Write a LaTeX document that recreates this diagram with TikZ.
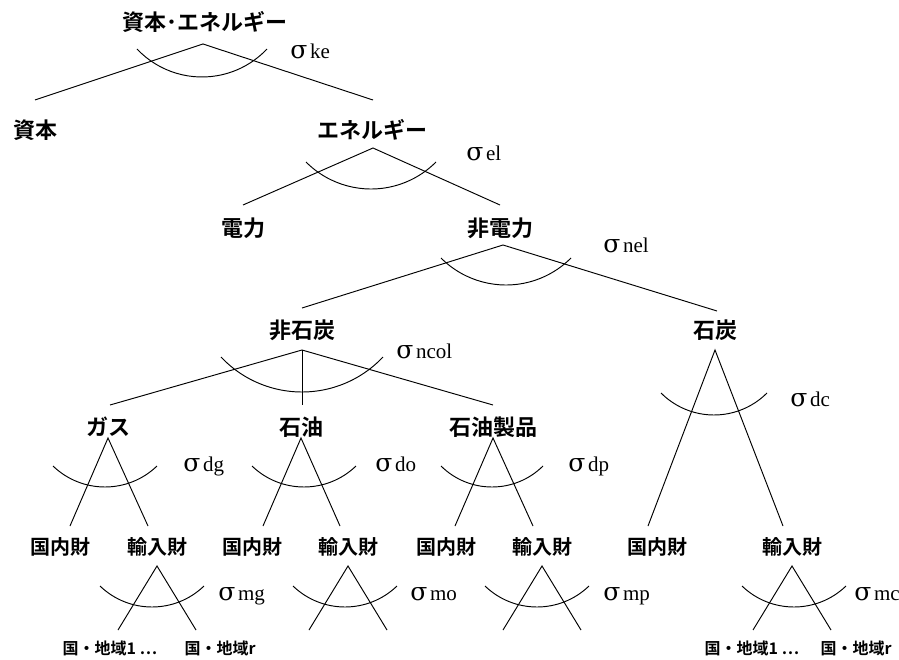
\documentclass[tikz,border=0pt]{standalone}
\usepackage{fontspec}
\newfontfamily\jpb{Noto Sans CJK JP Bold}
\newfontfamily\sig{Liberation Serif}
\newfontfamily\sigg{DejaVu Serif}
\newcommand\sgm[1]{{\sigg\fontsize{25}{25}\selectfont σ}\hspace{2.5pt}#1}
\newcommand\earc[4]{% centre x, end y, half width, sag
  \pgfmathsetmacro\arcR{(#3*#3+#4*#4)/(2*#4)}%
  \pgfmathsetmacro\arcA{asin(#3/\arcR)}%
  \draw ({#1-#3},#2) arc[start angle={90+\arcA},end angle={90-\arcA},radius=\arcR];}
\begin{document}
\begin{tikzpicture}[x=1pt,y=-1pt,line width=0.95pt,
  lvl/.style={font=\jpb\fontsize{22}{22}\selectfont,inner sep=0pt},
  mid/.style={font=\jpb\fontsize{20}{20}\selectfont,inner sep=0pt},
  low/.style={font=\jpb\fontsize{16}{16}\selectfont,inner sep=0pt},
  sg/.style={font=\sig\fontsize{21}{21}\selectfont,anchor=base west,inner sep=0pt}]
\useasboundingbox[fill=white] (0,0) rectangle (899,660);
% ---- labels ----
\node[lvl] (top) at (205,22) {資本･エネルギー};
\node[lvl] (cap) at (35,130) {資本};
\node[lvl] (ene) at (372,130) {エネルギー};
\node[lvl] (ele) at (243,228) {電力};
\node[lvl] (nel) at (500,228) {非電力};
\node[lvl] (ncl) at (302,330) {非石炭};
\node[lvl] (col) at (715,330) {石炭};
\node[lvl] (gas) at (108,427) {ガス};
\node[lvl] (oil) at (301,427) {石油};
\node[lvl] (prd) at (493,427) {石油製品};
\node[mid] (gd) at (60,547) {国内財};
\node[mid] (gm) at (157,547) {輸入財};
\node[mid] (od) at (252,547) {国内財};
\node[mid] (om) at (348,547) {輸入財};
\node[mid] (pd) at (446,547) {国内財};
\node[mid] (pm) at (542,547) {輸入財};
\node[mid] (cd) at (657,547) {国内財};
\node[mid] (cm) at (792,547) {輸入財};
\node[low] (g1) at (110,648) {国・地域1 …};
\node[low] (gr) at (220,648) {国・地域r};
\node[low] (c1) at (752,648) {国・地域1 …};
\node[low] (cr) at (856,648) {国・地域r};
% ---- sigma labels ----
\node[sg] (ske) at (290,59) {\sgm{ke}};
\node[sg] (sel) at (466,161) {\sgm{el}};
\node[sg] (snel) at (603,253) {\sgm{nel}};
\node[sg] (sncol) at (396,358) {\sgm{ncol}};
\node[sg] (sdc) at (790,406) {\sgm{dc}};
\node[sg] (sdg) at (183,471) {\sgm{dg}};
\node[sg] (sdo) at (375,471) {\sgm{do}};
\node[sg] (sdp) at (568,471) {\sgm{dp}};
\node[sg] (smg) at (218,600) {\sgm{mg}};
\node[sg] (smo) at (410,600) {\sgm{mo}};
\node[sg] (smp) at (603,600) {\sgm{mp}};
\node[sg] (smc) at (854,600) {\sgm{mc}};
% ---- connector points ----
\coordinate (topA) at (203,44);
\coordinate (capT) at (35,100);
\coordinate (eneT) at (373,100);
\coordinate (eneA) at (373,148);
\coordinate (eleT) at (243,205);
\coordinate (nelT) at (500,205);
\coordinate (nelA) at (503,245);
\coordinate (nclT) at (302,308);
\coordinate (colT) at (717,311);
\coordinate (nclA) at (302,350);
\coordinate (gasT) at (110,405);
\coordinate (oilT) at (302,405);
\coordinate (prdT) at (493,405);
\coordinate (colA) at (715,350);
\coordinate (gasA) at (108,438);
\coordinate (oilA) at (301,438);
\coordinate (prdA) at (493,438);
\coordinate (gdT) at (70,526);
\coordinate (gmT) at (148,526);
\coordinate (odT) at (263,526);
\coordinate (omT) at (340,526);
\coordinate (pdT) at (455,526);
\coordinate (pmT) at (533,526);
\coordinate (cdT) at (648,526);
\coordinate (cmT) at (783,526);
\coordinate (gmA) at (157,566);
\coordinate (omA) at (348,566);
\coordinate (pmA) at (542,566);
\coordinate (cmA) at (792,566);
\coordinate (g1T) at (118,630);
\coordinate (grT) at (196,630);
\coordinate (o1T) at (309,630);
\coordinate (orT) at (387,630);
\coordinate (p1T) at (503,630);
\coordinate (prT) at (581,630);
\coordinate (c1T) at (753,630);
\coordinate (crT) at (831,630);
% ---- connectors ----
\draw (capT) -- (topA) -- (eneT);
\draw (eleT) -- (eneA) -- (nelT);
\draw (nclT) -- (nelA) -- (colT);
\draw (gasT) -- (nclA) -- (prdT);
\draw (nclA) -- (oilT);
\draw (gdT) -- (gasA) -- (gmT);
\draw (odT) -- (oilA) -- (omT);
\draw (pdT) -- (prdA) -- (pmT);
\draw (cdT) -- (colA) -- (cmT);
\draw (g1T) -- (gmA) -- (grT);
\draw (o1T) -- (omA) -- (orT);
\draw (p1T) -- (pmA) -- (prT);
\draw (c1T) -- (cmA) -- (crT);
% ---- elasticity arcs ----
\earc{202}{49}{65}{28}
\earc{371}{162}{65}{27}
\earc{506}{258}{65}{27}
\earc{302}{357}{81}{35}
\earc{714}{393}{53}{22}
\earc{105}{466}{52}{21}
\earc{304}{466}{52}{21}
\earc{492}{466}{51}{21}
\earc{152}{586}{52}{21}
\earc{345}{586}{52}{21}
\earc{537}{586}{52}{21}
\earc{794}{586}{52}{21}
\end{tikzpicture}
\end{document}
